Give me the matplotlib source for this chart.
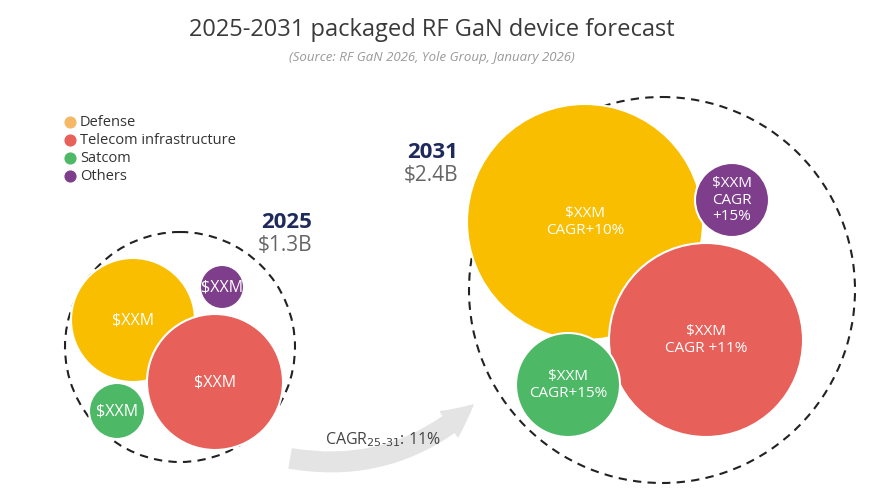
import matplotlib
matplotlib.use("Agg")
import matplotlib.pyplot as plt
from matplotlib.patches import Circle, FancyArrowPatch

plt.rcParams['font.family'] = ['Open Sans', 'DejaVu Sans']

# ── data ──
segments = ["Defense", "Telecom infrastructure", "Satcom", "Others"]
seg_colors = ["#F9BE00", "#E8605A", "#4DB866", "#7E3E8C"]
legend_colors = ["#F7B866", "#E8605A", "#4DB866", "#7E3E8C"]
years = ["2025", "2031"]
totals = ["$1.3B", "$2.4B"]
labels_2025 = ["$XXM", "$XXM", "$XXM", "$XXM"]
labels_2031 = ["$XXM\nCAGR+10%", "$XXM\nCAGR +11%", "$XXM\nCAGR+15%", "$XXM\nCAGR\n+15%"]
cagr_text = "CAGR$_{25\\text{-}31}$: 11%"

# ── layout (pixel space) ──
W, H = 875, 494
geo_2025 = [(133, 320, 62), (215, 382, 68), (117, 411, 28), (222, 287, 22)]
geo_2031 = [(585, 222, 118), (706, 340, 97), (568, 385, 52), (732, 200, 37)]
outer = [(180, 347, 115), (662, 290, 193)]

fig = plt.figure(figsize=(W / 100, H / 100), dpi=100)
ax = fig.add_axes([0, 0, 1, 1])
ax.set_xlim(0, W)
ax.set_ylim(H, 0)
ax.set_aspect("equal")
ax.axis("off")

ax.text(W / 2 - 6, 30, "2025-2031 packaged RF GaN device forecast", ha="center",
        va="center", fontsize=17, color="#3a3a3a")
ax.text(W / 2 - 6, 58, "(Source: RF GaN 2026, Yole Group, January 2026)", ha="center",
        va="center", fontsize=9.5, color="#999999", style="italic")

# legend
for i, (seg, c) in enumerate(zip(segments, legend_colors)):
    y = 122 + i * 18
    ax.scatter(70, y, s=60, color=c, zorder=3)
    ax.text(80, y, seg, va="center", fontsize=10.5, color="#333333")

for (cx, cy, r) in outer:
    ax.add_patch(Circle((cx, cy), r, fill=False, ls=(0, (4, 3)), lw=1.5, color="#222222"))

for geo, labs, fs in [(geo_2025, labels_2025, 11.5), (geo_2031, labels_2031, 11)]:
    for (cx, cy, r), lab, c in zip(geo, labs, seg_colors):
        ax.add_patch(Circle((cx, cy), r, color=c, ec="white", lw=1.5, zorder=2))
        ax.text(cx, cy, lab, ha="center", va="center", color="white", fontsize=fs,
                zorder=3, linespacing=1.15)

# year labels
ax.text(312, 222, years[0], ha="right", va="center", fontsize=16, fontweight="bold", color="#1F2A5C")
ax.text(312, 245, totals[0], ha="right", va="center", fontsize=15, color="#666666")
ax.text(458, 152, years[1], ha="right", va="center", fontsize=16, fontweight="bold", color="#1F2A5C")
ax.text(458, 175, totals[1], ha="right", va="center", fontsize=15, color="#666666")

arrow = FancyArrowPatch((288, 458), (475, 403), connectionstyle="arc3,rad=0.25",
                        arrowstyle="simple,head_width=22,head_length=22,tail_width=14",
                        color="#e4e4e4", zorder=1)
ax.add_patch(arrow)
ax.text(325, 440, cagr_text, fontsize=11.5, color="#444444", va="center")

fig.savefig("out.png", dpi=100, facecolor="white")
